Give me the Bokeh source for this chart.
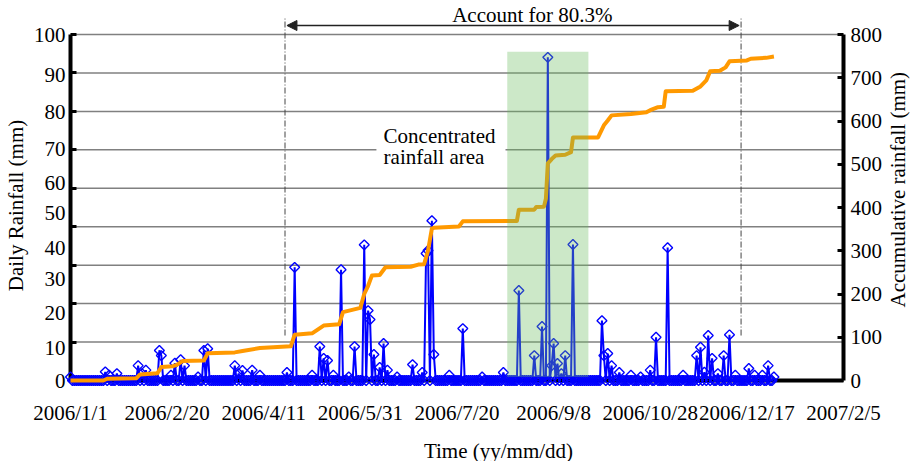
from datetime import datetime

import numpy as np
from bokeh.embed import file_html
from bokeh.models import Arrow, FixedTicker, Label, LinearAxis, NormalHead, Range1d
from bokeh.plotting import figure
from bokeh.resources import INLINE

# ---------------------------------------------------------------- data
START = datetime(2006, 1, 1)

tick_labels = ["2006/1/1", "2006/2/20", "2006/4/11", "2006/5/31", "2006/7/20",
               "2006/9/8", "2006/10/28", "2006/12/17", "2007/2/5"]

# rainy days of 2006 (every other day of the year is 0 mm)
rain_dates = [
    "2006-01-01", "2006-01-19", "2006-01-21", "2006-01-25", "2006-02-05", "2006-02-07",
    "2006-02-09", "2006-02-16", "2006-02-17", "2006-02-22", "2006-02-24", "2006-02-27",
    "2006-03-01", "2006-03-08", "2006-03-11", "2006-03-13", "2006-03-27", "2006-03-29",
    "2006-03-31", "2006-04-05", "2006-04-09", "2006-04-23", "2006-04-27", "2006-05-06",
    "2006-05-10", "2006-05-12", "2006-05-14", "2006-05-17", "2006-05-21", "2006-05-25",
    "2006-05-28", "2006-06-02", "2006-06-04", "2006-06-05", "2006-06-07", "2006-06-10",
    "2006-06-12", "2006-06-14", "2006-06-19", "2006-06-27", "2006-07-02", "2006-07-04",
    "2006-07-05", "2006-07-07", "2006-07-08", "2006-07-16", "2006-07-23", "2006-08-02",
    "2006-08-13", "2006-08-21", "2006-08-29", "2006-09-02", "2006-09-05", "2006-09-07",
    "2006-09-08", "2006-09-10", "2006-09-12", "2006-09-14", "2006-09-18", "2006-10-03",
    "2006-10-04", "2006-10-06", "2006-10-08", "2006-10-12", "2006-10-18", "2006-10-23",
    "2006-10-28", "2006-10-31", "2006-11-06", "2006-11-14", "2006-11-21", "2006-11-23",
    "2006-11-25", "2006-11-27", "2006-11-29", "2006-12-02", "2006-12-05", "2006-12-08",
    "2006-12-11", "2006-12-18", "2006-12-21", "2006-12-25", "2006-12-28", "2006-12-31",
]
rain_mm = [
    1.0, 2.5, 1.5, 2.0, 4.3, 2.0,
    3.0, 8.7, 7.2, 1.5, 5.0, 6.0,
    4.3, 1.0, 8.7, 9.2, 4.3, 2.0,
    2.9, 3.0, 1.5, 2.3, 32.7, 1.5,
    9.8, 6.4, 5.8, 1.5, 32.0, 1.0,
    9.8, 39.2, 20.2, 17.6, 7.5, 3.8,
    10.7, 3.0, 1.0, 4.6, 2.3, 36.7,
    37.6, 46.2, 7.5, 1.5, 15.0, 1.0,
    2.3, 26.0, 7.2, 15.6, 93.4, 4.3,
    10.7, 4.9, 2.0, 7.2, 39.3, 17.3,
    7.2, 7.8, 4.3, 2.3, 1.5, 1.0,
    3.0, 12.5, 38.4, 1.5, 7.2, 9.6,
    2.4, 13.0, 6.4, 2.0, 7.2, 13.2,
    1.5, 3.5, 1.5, 1.5, 4.3, 1.0,
]

# accumulated rainfall, mm
cum_dates = [
    "2006-01-01", "2006-01-18", "2006-01-20", "2006-02-04", "2006-02-06", "2006-02-15",
    "2006-02-17", "2006-02-23", "2006-02-25", "2006-02-28", "2006-03-11", "2006-03-13",
    "2006-03-27", "2006-03-31", "2006-04-09", "2006-04-25", "2006-04-27", "2006-05-06",
    "2006-05-12", "2006-05-20", "2006-05-22", "2006-05-31", "2006-06-02", "2006-06-04",
    "2006-06-06", "2006-06-10", "2006-06-13", "2006-06-26", "2006-06-30", "2006-07-03",
    "2006-07-05", "2006-07-07", "2006-07-08", "2006-07-21", "2006-07-23", "2006-08-20",
    "2006-08-21", "2006-08-29", "2006-08-30", "2006-09-03", "2006-09-04", "2006-09-05",
    "2006-09-07", "2006-09-09", "2006-09-14", "2006-09-17", "2006-09-18", "2006-10-01",
    "2006-10-04", "2006-10-06", "2006-10-08", "2006-10-18", "2006-10-26", "2006-10-28",
    "2006-11-01", "2006-11-04", "2006-11-05", "2006-11-19", "2006-11-23", "2006-11-26",
    "2006-11-28", "2006-12-03", "2006-12-06", "2006-12-08", "2006-12-17", "2006-12-19",
    "2006-12-27", "2006-12-31",
]
cum_mm = [
    0, 0, 4, 5, 14, 17,
    31, 33, 36, 45, 46, 63,
    65, 68, 75, 79, 106, 109,
    127, 130, 158, 168, 200, 219,
    243, 244, 262, 263, 268, 269,
    300, 351, 353, 356, 368, 369,
    395, 395, 401, 402, 420, 502,
    512, 520, 522, 528, 562, 562,
    590, 601, 613, 616, 620, 625,
    632, 633, 669, 670, 680, 694,
    715, 716, 724, 738, 740, 744,
    746, 749,
]

left_labels = ["100", "90", "80", "70", "60", "50", "40", "30", "20", "10", "0"]
left_label_at = [100, 88.4, 77.7, 66.8, 57.2, 48.3, 38.4, 29.2, 19.4, 9.5, 0]
grid_levels = [100 / 9 * k for k in range(1, 10)]
cum_ticks = [0, 100, 200, 300, 400, 500, 600, 700, 800]

concentrated = ("2006-08-15", "2006-09-26")   # shaded period
marked = ("2006-04-22", "2006-12-14")         # period holding 80.3 % of the rain

x_title = "Time (yy/mm/dd)"
left_title = "Daily Rainfall (mm)"
right_title = "Accumulative rainfall (mm)"


def day(s, fmt="%Y-%m-%d"):
    return (datetime.strptime(s, fmt) - START).days


days = np.arange(365)
daily = np.zeros(365)
for d, v in zip(rain_dates, rain_mm):
    daily[day(d)] = v
cum_x = [day(d) for d in cum_dates]
tick_days = [day(t, "%Y/%m/%d") for t in tick_labels]

# ---------------------------------------------------------------- figure
FONT = "Liberation Serif"
FS = "21px"
PX_DAY = 773 / 400      # pixels per day
PX_L = 346 / 100        # pixels per mm, daily axis
PX_R = 346 / 800        # pixels per mm, accumulated axis

p = figure(frame_width=773, frame_height=380,
           min_border_left=70, min_border_right=77, min_border_top=0, min_border_bottom=81,
           x_range=Range1d(0, 400),
           y_range=Range1d(0, 380 / PX_L),
           output_backend="svg", toolbar_location=None)
p.outline_line_color = None
p.xgrid.visible = False
p.ygrid.visible = False
p.extra_y_ranges = {"cum": Range1d(0, 380 / PX_R)}


def style(ax, line=True):
    ax.axis_line_width = 4
    ax.axis_line_color = "black" if line else None
    ax.major_tick_out = 0
    ax.minor_tick_out = 0
    ax.major_tick_in = 0
    ax.minor_tick_in = 0
    ax.major_tick_line_color = None
    ax.minor_tick_line_color = None
    ax.major_label_text_font = FONT
    ax.major_label_text_font_size = FS
    ax.major_label_text_color = "black"


# bottom axis
xa = p.xaxis[0]
style(xa)
xa.ticker = FixedTicker(ticks=tick_days)
xa.major_label_overrides = {d: t for d, t in zip(tick_days, tick_labels)}
xa.major_label_standoff = 20

# left axis: labels plus inward tick marks on the grid levels
ya = p.yaxis[0]
style(ya)
ya.ticker = FixedTicker(ticks=left_label_at, minor_ticks=grid_levels)
ya.major_label_overrides = {v: t for v, t in zip(left_label_at, left_labels)}
ya.bounds = (0, 100)
ya.minor_tick_in = 6
ya.minor_tick_line_width = 3
ya.minor_tick_line_color = "black"
ya.major_label_standoff = 5

# right axis
ra = LinearAxis(y_range_name="cum", ticker=FixedTicker(ticks=cum_ticks), bounds=(0, 800))
style(ra)
ra.major_tick_in = 6
ra.major_tick_line_width = 3
ra.major_tick_line_color = "black"
ra.major_label_standoff = 7
p.add_layout(ra, "right")

# axis titles, each placed as the single label of a bare axis
X_T = (498 - 70) / PX_DAY
Y_LT = (380 - 205) / PX_L
Y_RT = (380 - 307) / PX_L

tx = LinearAxis(ticker=FixedTicker(ticks=[X_T]), major_label_overrides={X_T: x_title})
style(tx, line=False)
tx.major_label_standoff = 11
p.add_layout(tx, "below")

tl = LinearAxis(ticker=FixedTicker(ticks=[Y_LT]), major_label_overrides={Y_LT: left_title},
                major_label_orientation="vertical")
style(tl, line=False)
tl.major_label_standoff = 3
p.add_layout(tl, "left")

tr = LinearAxis(ticker=FixedTicker(ticks=[Y_RT]), major_label_overrides={Y_RT: right_title},
                major_label_orientation=np.pi / 2)
style(tr, line=False)
tr.major_label_standoff = 12
p.add_layout(tr, "right")

# horizontal grid
p.segment(x0=0, x1=400, y0=grid_levels, y1=grid_levels, line_color="#808080", line_width=1.5)

# white backing of the caption, interrupting the grid line
p.quad(left=158.3, right=225.1, bottom=60.1, top=74.6, fill_color="white", line_color=None)

# daily rainfall (drawn above the axis lines)
p.line(days, daily, line_color="#0000ff", line_width=2, level="overlay")
p.scatter(days, daily, marker="square", angle=np.pi / 4, size=7, level="overlay",
          fill_color=None, line_color="#0000ff", line_width=1.4)

# accumulated rainfall
p.line(cum_x, cum_mm, y_range_name="cum", line_color="#ff9900", line_width=4,
       line_join="round", level="overlay")

# concentrated rainfall period
p.quad(left=day(concentrated[0]), right=day(concentrated[1]), bottom=1, top=95,
       fill_color="#6abc5e", fill_alpha=0.34, line_color=None, level="overlay")

# dash-dot markers and arrow for the 80.3 % period
m0, m1 = day(marked[0]), day(marked[1])
p.segment(x0=[m0, m1], x1=[m0, m1], y0=13, y1=104.6,
          line_color="#444444", line_width=1, line_dash="6 2 1 2")
p.add_layout(Arrow(x_start=m0 + 1, x_end=m1 - 1, y_start=102.6, y_end=102.6,
                   line_color="#222222", line_width=1.3,
                   start=NormalHead(size=10, fill_color="#222222", line_color="#222222"),
                   end=NormalHead(size=10, fill_color="#222222", line_color="#222222")))
p.add_layout(Label(x=day("2006-08-28"), y=105.5, text="Account for 80.3%",
                   text_align="center", text_baseline="middle",
                   text_font=FONT, text_font_size=FS, text_color="black"))

# caption for the shaded period
for yy, txt in ((70.8, "Concentrated"), (64.5, "rainfall area")):
    p.add_layout(Label(x=162, y=yy, text=txt, text_align="left", text_baseline="middle",
                       text_font=FONT, text_font_size=FS, text_color="black"))

open("out.html", "w").write(file_html(p, INLINE))
